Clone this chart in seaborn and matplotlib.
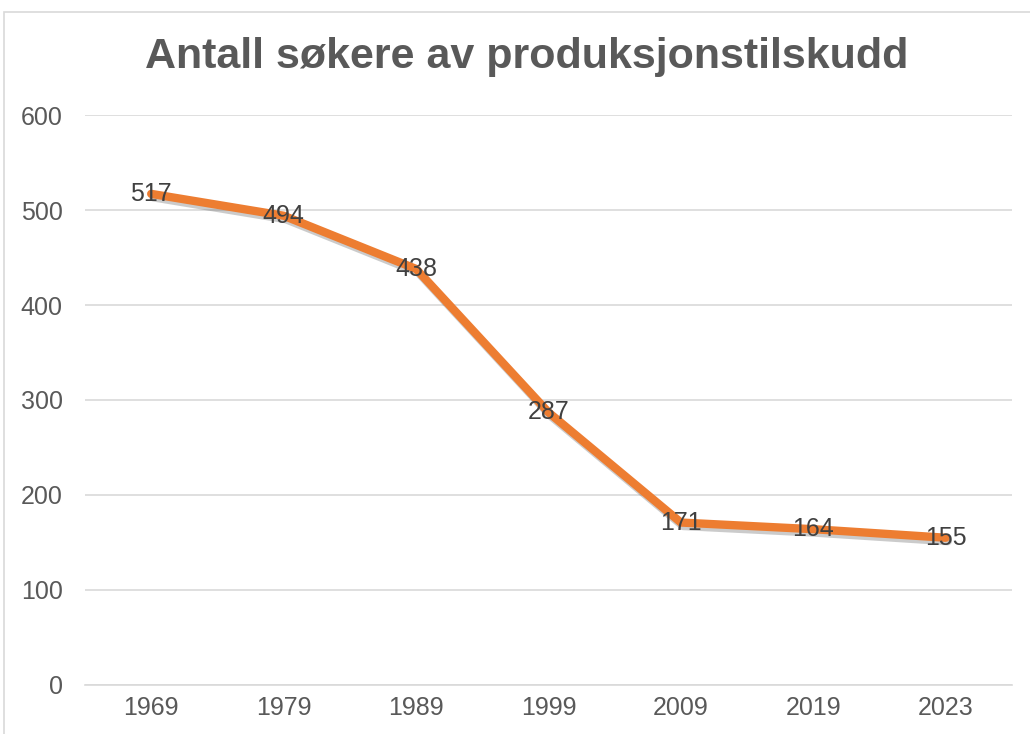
import pandas as pd
import matplotlib.pyplot as plt
import matplotlib.patheffects as pe
from matplotlib.patches import Rectangle
import seaborn as sns

# data
years = ["1969", "1979", "1989", "1999", "2009", "2019", "2023"]
applicants = [517, 494, 438, 287, 171, 164, 155]
yticks = [0, 100, 200, 300, 400, 500, 600]

df = pd.DataFrame({"Year": years, "Antall": applicants})

sns.set_style("white")
plt.rcParams['font.family'] = ['Liberation Sans', 'DejaVu Sans']

fig = plt.figure(figsize=(10.3, 7.34), dpi=100)
ax = fig.add_axes([0.0825, 0.0668, 0.9, 0.7765])

# outer chart frame (Excel-style), cut off on the right and bottom
fig.patches.append(Rectangle((4 / 1030, -0.1), 1.2, 1 - 12 / 734 + 0.1,
                             transform=fig.transFigure, fill=False,
                             edgecolor="#D9D9D9", linewidth=1.2))

sns.lineplot(data=df, x="Year", y="Antall", ax=ax, color="#ED7D31",
             linewidth=6, sort=False,
             path_effects=[pe.SimpleLineShadow(offset=(1.5, -2.5), alpha=0.3, shadow_color="#555555"),
                           pe.Normal()])

for i, v in enumerate(applicants):
    ax.text(i, v, str(v), ha="center", va="center", fontsize=18, color="#404040")

ax.set_xlim(-0.5, len(years) - 0.5)
ax.set_ylim(0, 600)
ax.set_yticks(yticks)
ax.yaxis.grid(True, color="#D9D9D9", linewidth=1.2)
ax.set_axisbelow(True)
for s in ["top", "right", "left"]:
    ax.spines[s].set_visible(False)
ax.spines["bottom"].set_color("#D9D9D9")
ax.spines["bottom"].set_linewidth(1.2)
ax.tick_params(axis="both", length=0, labelsize=18, labelcolor="#595959")
ax.tick_params(axis="y", pad=16)
ax.tick_params(axis="x", pad=8)
ax.set_xlabel("")
ax.set_ylabel("")

fig.text(0.511, 0.922, "Antall søkere av produksjonstilskudd", ha="center", va="center",
         fontsize=31, fontweight="bold", color="#595959")

fig.savefig("out.png", dpi=100)
